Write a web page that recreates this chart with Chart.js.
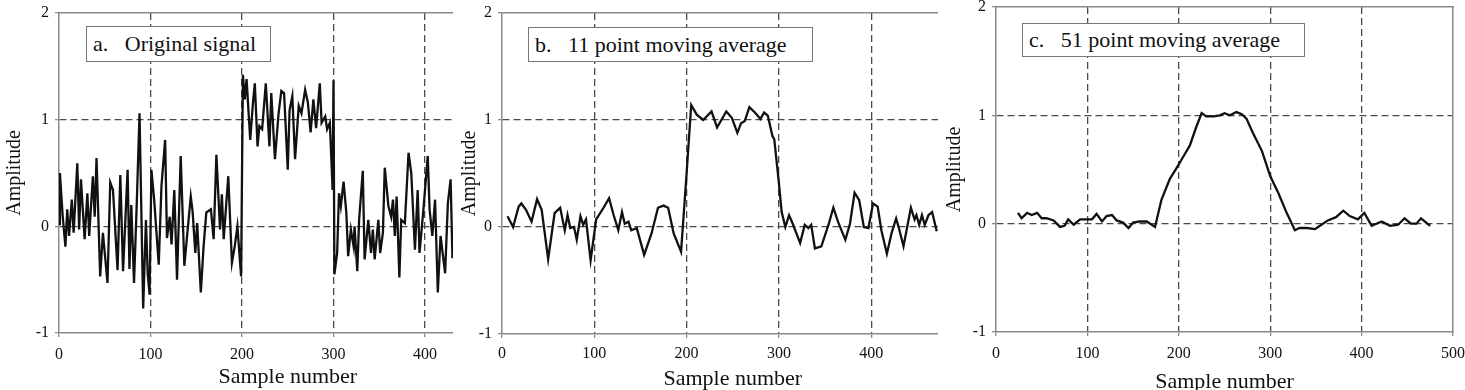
<!DOCTYPE html>
<html>
<head>
<meta charset="utf-8">
<script src="https://cdn.jsdelivr.net/npm/chart.js@4/dist/chart.umd.min.js"></script>
<style>
  body { margin: 0; background: #fff; overflow: hidden; width: 1465px; height: 390px; position: relative; }
  .clip { position: absolute; top: 0; height: 390px; overflow: hidden; }
  .tag { position: absolute; box-sizing: border-box; border: 1px solid #777; background: #fff;
         font-family: "Liberation Serif", "DejaVu Serif", serif; font-size: 22px; color: #111;
         white-space: pre; padding-left: 6px; }
</style>
</head>
<body>
<div class="clip" style="left:0;width:453px"><canvas id="chartA" width="530" height="390"></canvas></div>
<div class="clip" style="left:455px;width:483px"><canvas id="chartB" width="522" height="390"></canvas></div>
<div class="clip" style="left:940px;width:527px"><canvas id="chartC" width="527" height="390"></canvas></div>

<div class="tag" style="left:86px;top:26px;width:185px;height:36px;line-height:34px">a.   Original signal</div>
<div class="tag" style="left:528px;top:27px;width:285px;height:35px;line-height:33px">b.   11 point moving average</div>
<div class="tag" style="left:1022px;top:23px;width:283px;height:34px;line-height:32px">c.   51 point moving average</div>

<script>
// a. original signal (peaks and troughs)
var sampleA = [0, 1, 4, 7, 9, 11, 14, 16, 20, 22, 24, 28, 31, 33, 37, 39, 41, 45, 48, 53,
  56, 59, 64, 67, 70, 75, 77, 79, 82, 85, 88, 92, 95, 97, 99, 101, 104, 109, 112, 116,
  118, 121, 123, 126, 129, 133, 137, 140, 144, 146, 149, 151, 155, 158, 161, 166, 169, 172, 176, 178,
  180, 185, 189, 192, 195, 199, 201, 203, 205, 209, 212, 214, 217, 219, 222, 226, 230, 232, 236, 240,
  243, 246, 250, 252, 255, 258, 262, 265, 269, 272, 275, 278, 281, 285, 287, 291, 293, 296, 298, 299,
  300, 301, 304, 306, 308, 311, 314, 316, 319, 322, 323, 326, 328, 332, 334, 338, 341, 343, 345, 349,
  351, 354, 356, 360, 363, 365, 367, 369, 372, 374, 378, 382, 385, 389, 392, 394, 398, 403, 405, 408,
  411, 414, 417, 422, 425, 428, 430];
var ampA = [0.02, 0.5, 0.1, -0.19, 0.16, -0.09, 0.25, -0.06, 0.59, -0.03, 0.44, -0.12, 0.31, -0.09, 0.47, 0.09, 0.64, -0.47, -0.06, -0.53,
  0.41, 0.34, -0.41, 0.48, -0.42, 0.53, -0.4, 0.2, -0.53, 0.22, 1.06, -0.77, 0.06, -0.45, -0.64, 0.53, 0.25, -0.36, 0.38, 0.81,
  -0.11, 0.09, -0.17, 0.34, -0.5, 0.66, -0.37, -0.09, 0.28, 0.14, -0.25, 0.03, -0.62, -0.19, 0.13, 0.16, -0.12, 0.67, -0.03, 0.3,
  -0.12, 0.47, -0.34, -0.19, 0.0, -0.47, 1.42, 1.19, 1.38, 0.81, 1.16, 1.34, 0.75, 0.94, 0.91, 1.34, 0.75, 1.25, 0.63, 1.06,
  1.27, 1.25, 0.53, 1.09, 1.22, 0.63, 1.13, 1.06, 1.28, 1.16, 0.88, 1.19, 0.92, 1.34, 0.97, 1.03, 0.91, 0.97, 0.56, 0.34,
  1.37, -0.45, -0.25, 0.31, 0.19, 0.42, 0.13, -0.28, -0.03, -0.19, 0.0, -0.42, 0.06, 0.52, -0.31, 0.06, -0.25, -0.03, -0.31, 0.06,
  -0.25, -0.06, 0.55, 0.19, 0.09, 0.25, -0.09, 0.28, -0.48, 0.06, 0.03, 0.69, 0.5, -0.22, 0.34, -0.25, 0.13, 0.66, 0.16, -0.09,
  0.25, -0.62, -0.09, -0.44, 0.22, 0.44, -0.3];

// b. 11 point moving average
var sampleB = [6, 12, 18, 21, 26, 32, 38, 43, 50, 57, 63, 68, 71, 74, 78, 81, 85, 88, 91, 96,
  102, 110, 116, 121, 126, 130, 133, 137, 140, 146, 154, 162, 169, 175, 180, 186, 194, 200, 205, 211,
  218, 227, 233, 243, 249, 255, 259, 263, 268, 274, 280, 284, 288, 293, 295, 300, 303, 307, 311, 315,
  323, 328, 332, 335, 339, 346, 354, 359, 364, 372, 377, 382, 387, 392, 397, 402, 407, 411, 417, 422,
  427, 430, 435, 439, 443, 447, 449, 452, 455, 458, 462, 466, 471];
var ampB = [0.1, 0.0, 0.19, 0.22, 0.16, 0.05, 0.26, 0.16, -0.3, 0.13, 0.18, -0.03, 0.11, -0.01, 0.0, -0.12, 0.1, 0.02, 0.07, -0.31,
  0.07, 0.18, 0.27, 0.11, -0.03, 0.14, 0.03, 0.05, -0.03, -0.01, -0.26, -0.06, 0.18, 0.2, 0.18, -0.06, -0.23, 0.5, 1.14, 1.05,
  1.0, 1.08, 0.93, 1.08, 1.02, 0.88, 0.97, 0.99, 1.12, 1.07, 1.01, 1.07, 1.04, 0.85, 0.82, 0.41, 0.14, 0.0, 0.11, 0.03,
  -0.15, 0.02, -0.01, 0.02, -0.2, -0.18, 0.03, 0.18, 0.05, -0.12, 0.03, 0.32, 0.25, 0.0, -0.01, 0.22, 0.19, -0.03, -0.25, -0.06,
  0.08, -0.01, -0.18, 0.0, 0.18, 0.07, 0.11, 0.02, 0.11, 0.02, 0.11, 0.14, -0.04];

// c. 51 point moving average
var sampleC = [24, 28, 34, 39, 45, 50, 55, 63, 70, 75, 79, 85, 92, 99, 105, 110, 116, 121, 127, 132,
  139, 145, 150, 157, 165, 174, 181, 190, 198, 205, 212, 219, 225, 230, 238, 245, 250, 256, 263, 269,
  274, 281, 291, 300, 309, 318, 327, 332, 340, 349, 356, 363, 372, 380, 387, 396, 403, 411, 422, 431,
  440, 447, 454, 460, 465, 475];
var ampC = [0.1, 0.05, 0.1, 0.08, 0.1, 0.05, 0.05, 0.03, -0.03, -0.02, 0.04, -0.01, 0.04, 0.04, 0.04, 0.09, 0.02, 0.07, 0.08, 0.03,
  0.01, -0.04, 0.01, 0.02, 0.02, -0.03, 0.22, 0.41, 0.52, 0.62, 0.72, 0.89, 1.02, 0.99, 0.99, 1.0, 1.02, 1.0, 1.03, 1.01,
  0.97, 0.84, 0.67, 0.44, 0.28, 0.1, -0.06, -0.04, -0.04, -0.05, -0.01, 0.03, 0.06, 0.12, 0.07, 0.04, 0.1, -0.02, 0.02, -0.02,
  -0.01, 0.05, 0.0, 0.0, 0.05, -0.02];

var xTicks = [0, 100, 200, 300, 400, 500];
var yTicks = [-1, 0, 1, 2];

var serif = "'Liberation Serif', 'DejaVu Serif', serif";
var dashColor = "#4a4a4a";
var frameColor = "#8a8a8a";

function points(xs, ys) {
  return xs.map(function (x, i) { return { x: x, y: ys[i] }; });
}

function makePanel(id, xs, ys, p) {
  var scales = {
    x: {
      type: "linear", position: "bottom", min: xTicks[0], max: xTicks[xTicks.length - 1],
      afterBuildTicks: function (s) { s.ticks = xTicks.map(function (v) { return { value: v }; }); },
      afterFit: function (s) { s.height = p.xh; s.paddingLeft = 0; s.paddingRight = 0; },
      ticks: { font: { family: serif, size: 16 }, color: "#111", padding: p.tickPad, maxRotation: 0, autoSkip: false },
      grid: {
        color: function (c) { return (c.tick && (c.tick.value === 0 || c.tick.value === 500)) ? "rgba(0,0,0,0)" : dashColor; },
        lineWidth: 1.3, tickColor: frameColor, tickLength: 4
      },
      border: { color: frameColor, width: 1.5, dash: [7, 4] },
      title: { display: true, text: "Sample number", font: { family: serif, size: 22 }, color: "#111", padding: { top: 0, bottom: p.titleBottom } }
    },
    xTop: {
      type: "linear", position: "top", min: 0, max: 500,
      afterFit: function (s) { s.height = 0; },
      ticks: { display: false }, grid: { display: false },
      border: { color: frameColor, width: 1.5 }
    },
    y: {
      type: "linear", position: "left", min: yTicks[0], max: yTicks[yTicks.length - 1],
      afterBuildTicks: function (s) { s.ticks = yTicks.map(function (v) { return { value: v }; }); },
      afterFit: function (s) { s.width = p.yw; s.paddingTop = 0; s.paddingBottom = 0; },
      ticks: { font: { family: serif, size: 16 }, color: "#111", padding: 6 },
      grid: {
        color: function (c) { return (c.tick && (c.tick.value === -1 || c.tick.value === 2)) ? "rgba(0,0,0,0)" : dashColor; },
        lineWidth: 1.3, tickColor: frameColor, tickLength: 4
      },
      border: { color: frameColor, width: 1.5, dash: [7, 4] },
      title: { display: true, text: "Amplitude", font: { family: serif, size: 20 }, color: "#111", padding: { top: 3, bottom: 0 } }
    }
  };
  if (p.rightFrame) {
    scales.yRight = {
      type: "linear", position: "right", min: -1, max: 2,
      afterFit: function (s) { s.width = 0; },
      ticks: { display: false }, grid: { display: false },
      border: { color: frameColor, width: 1.5 }
    };
  }
  return new Chart(id, {
    type: "line",
    data: {
      datasets: [{
        data: points(xs, ys),
        borderColor: "#111",
        borderWidth: 2.3,
        pointRadius: 0,
        tension: 0,
        fill: false
      }]
    },
    options: {
      responsive: false,
      animation: false,
      parsing: false,
      layout: { padding: { left: 0, top: p.top, right: p.right, bottom: 0 } },
      plugins: { legend: { display: false }, tooltip: { enabled: false } },
      scales: scales
    }
  });
}

makePanel("chartA", sampleA, ampA, { yw: 59, xh: 57, top: 13, right: 13.5, tickPad: 8, titleBottom: 0 });
makePanel("chartB", sampleB, ampB, { yw: 47, xh: 56, top: 13, right: 13.5, tickPad: 6, titleBottom: -2 });
makePanel("chartC", sampleC, ampC, { yw: 56, xh: 58, top: 7, right: 14, tickPad: 8, titleBottom: -5, rightFrame: true });
</script>
</body>
</html>
